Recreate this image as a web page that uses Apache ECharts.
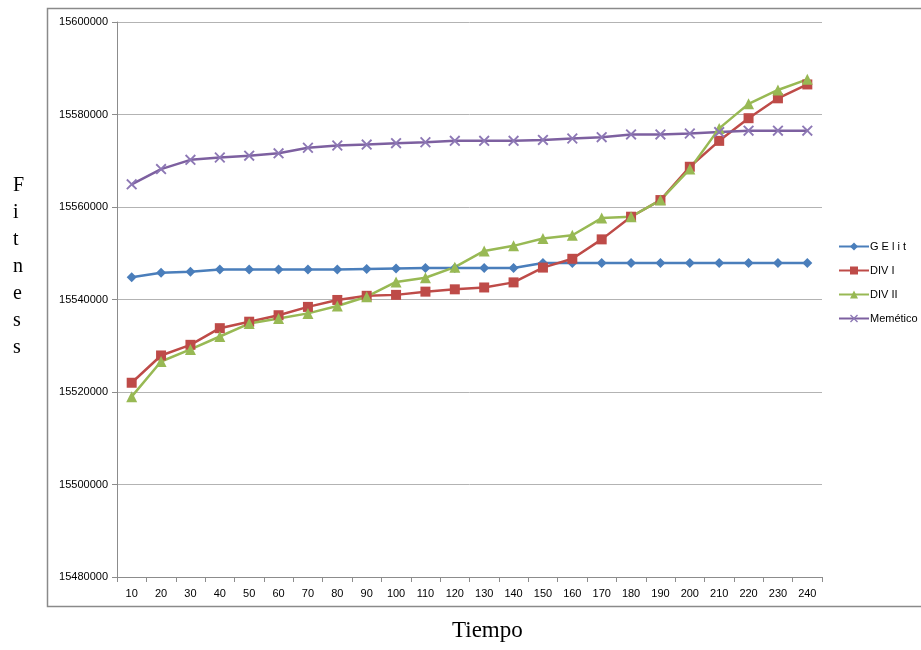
<!DOCTYPE html>
<html>
<head>
<meta charset="utf-8">
<script src="https://cdn.jsdelivr.net/npm/echarts@6/dist/echarts.min.js"></script>
<style>
  html, body { margin: 0; padding: 0; background: #fff; }
  #chart { width: 921px; height: 650px; }
</style>
</head>
<body>
<div id="chart"></div>
<script>
// Time steps on the horizontal axis
const tiempo = ['10','20','30','40','50','60','70','80','90','100','110','120',
  '130','140','150','160','170','180','190','200','210','220','230','240'];

// Fitness per algorithm
const gelit = [15544800,15545800,15546000,15546500,15546500,15546500,15546500,15546500,
  15546600,15546700,15546800,15546800,15546800,15546800,15547900,15547900,
  15547900,15547900,15547900,15547900,15547900,15547900,15547900,15547900];
const div1 = [15522000,15527900,15530200,15533800,15535200,15536600,15538400,15539900,
  15540800,15541000,15541700,15542200,15542600,15543700,15546900,15548800,
  15553000,15557900,15561500,15568700,15574300,15579200,15583500,15586500];
const div2 = [15519000,15526600,15529200,15532000,15534800,15535900,15537000,15538600,
  15540600,15543800,15544700,15547000,15550500,15551600,15553200,15553900,
  15557600,15557900,15561500,15568200,15577000,15582300,15585300,15587600];
const memetico = [15564900,15568200,15570200,15570700,15571100,15571600,15572800,15573300,
  15573500,15573800,15574000,15574300,15574300,15574300,15574500,15574800,
  15575100,15575700,15575700,15575900,15576200,15576500,15576500,15576500];

const yMin = 15480000, yMax = 15600000, yStep = 20000;

// thin "x" marker drawn as a filled outline
const crossPath = 'path://M0,1.2L1.2,0L5,3.8L8.8,0L10,1.2L6.2,5L10,8.8L8.8,10L5,6.2L1.2,10L0,8.8L3.8,5Z';

function lineSeries(name, data, color, symbol, size, markerColor) {
  return {
    name, type: 'line', data,
    symbol, symbolSize: size,
    lineStyle: { color, width: 2.5 },
    itemStyle: { color: markerColor || color },
    emphasis: { disabled: true },
    animation: false
  };
}

const chart = echarts.init(document.getElementById('chart'), null, { renderer: 'canvas' });
chart.setOption({
  animation: false,
  grid: { left: 117, right: 99, top: 22, bottom: 73 },
  legend: {
    orient: 'vertical', left: 833, top: 236, itemGap: 13,
    itemWidth: 30, itemHeight: 10,
    textStyle: { fontFamily: 'Liberation Sans', fontSize: 11, color: '#000', padding: [0,0,0,-4] },
    data: ['G E l i t', 'DIV I', 'DIV II', 'Memético']
  },
  xAxis: {
    type: 'category', data: tiempo, boundaryGap: true,
    axisLine: { lineStyle: { color: '#8c8c8c', width: 1 } },
    axisTick: { show: true, length: 5, lineStyle: { color: '#8c8c8c' } },
    axisLabel: { fontFamily: 'Liberation Sans', fontSize: 11, color: '#000', margin: 11, interval: 0 },
    splitLine: { show: false }
  },
  yAxis: {
    type: 'value', min: yMin, max: yMax, interval: yStep,
    axisLine: { show: true, lineStyle: { color: '#8c8c8c', width: 1 } },
    axisTick: { show: true, length: 5, lineStyle: { color: '#8c8c8c' } },
    axisLabel: { fontFamily: 'Liberation Sans', fontSize: 11, color: '#000', margin: 9,
      formatter: v => String(v) },
    splitLine: { show: true, lineStyle: { color: '#b3b3b3', width: 1 } }
  },
  graphic: [
    { type: 'rect', silent: true, z: -1,
      shape: { x: 47.5, y: 8.5, width: 900, height: 598 },
      style: { fill: 'none', stroke: '#8a8a8a', lineWidth: 1.5 } },
    { type: 'text', left: 13, top: 172, silent: true,
      style: { text: 'F\ni\nt\nn\ne\ns\ns', font: '20px "Liberation Serif"', lineHeight: 27,
        fill: '#000', align: 'center' } },
    { type: 'text', left: 452, top: 619, silent: true,
      style: { text: 'Tiempo', font: '23px "Liberation Serif"', fill: '#000' } }
  ],
  series: [
    lineSeries('G E l i t', gelit, '#4a7ebb', 'diamond', 10),
    lineSeries('DIV I', div1, '#be4b48', 'rect', 10),
    lineSeries('DIV II', div2, '#98b954', 'triangle', 11),
    lineSeries('Memético', memetico, '#7d60a0', crossPath, 11, '#8d78b5')
  ]
});
</script>
</body>
</html>
